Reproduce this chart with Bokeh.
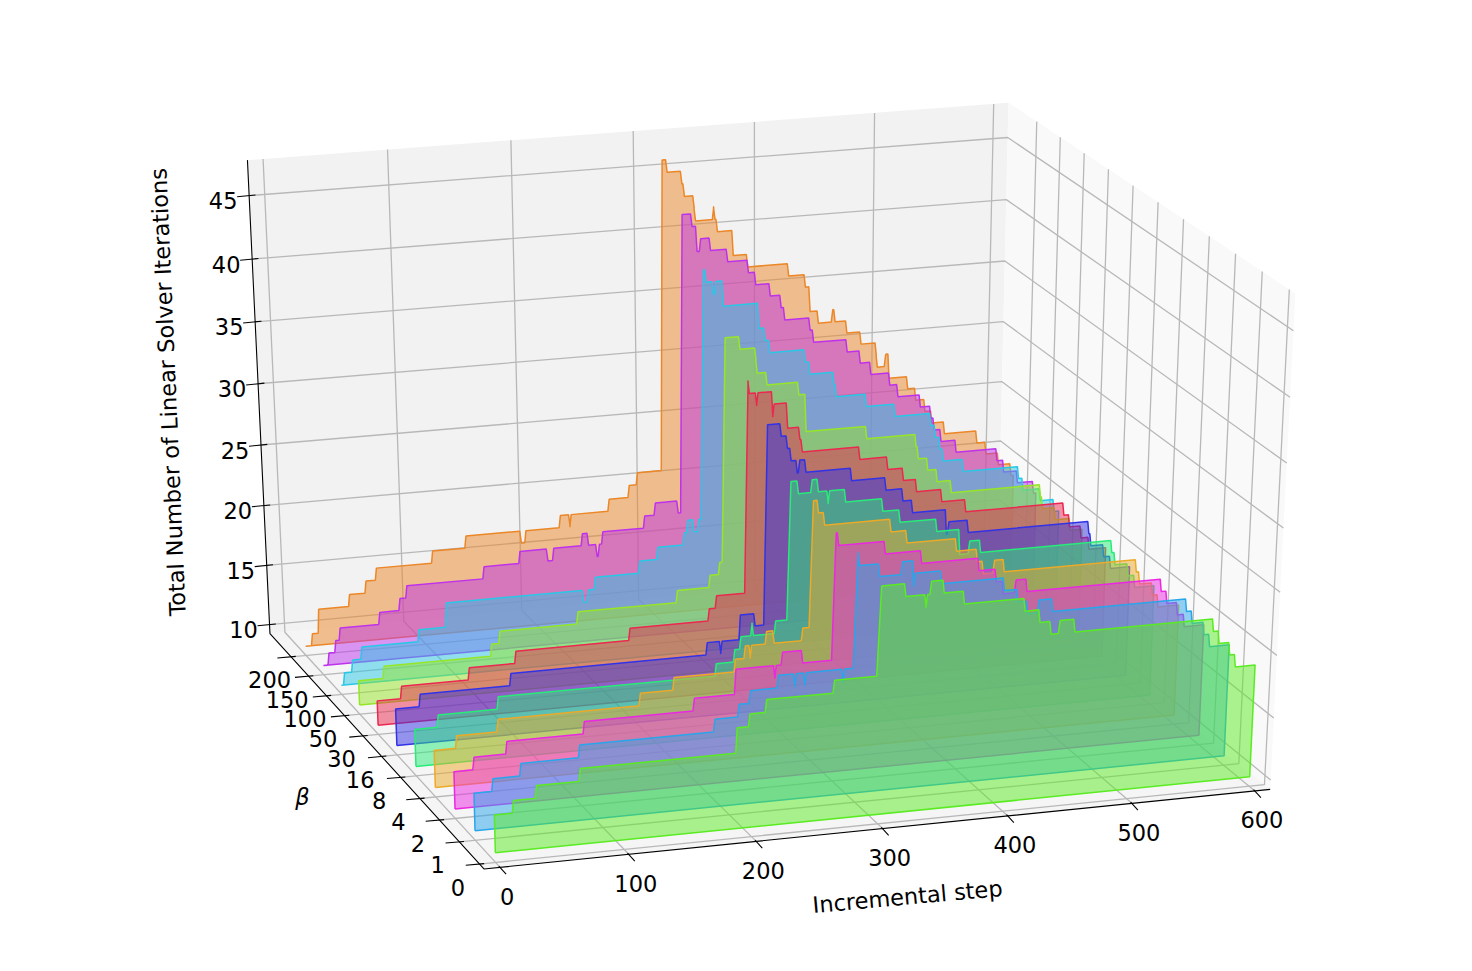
import numpy as np
from bokeh.plotting import figure
from bokeh.embed import file_html
from bokeh.resources import INLINE
from bokeh.models import Range1d
from bokeh.core.properties import value

beta_labels = ["0","1","2","4","8","16","30","50","100","150","200"]
step_ticks = [0,100,200,300,400,500,600]
iter_ticks = [10,15,20,25,30,35,40,45]
colors = ["#5aeb23","#28a5eb","#eb28e1","#ebaa28","#28eb78","#3232e6","#eb2850","#96e628","#28c8e6","#be32eb","#eb8728"]

S0=[0,15,33,67,189,199,212,265,301,320,336,337,340,350,366,414,426,435,442,454,565,570,579,584,600]
L0=[13,14,15,16,18,19,20,21,28,27,26,27,28,27,26,25,24,23,24,23,22,21,20,19,19]
S1=[0,15,37,83,189,208,217,239,252,253,260,261,290,291,301,302,318,336,345,346,367,417,428,436,445,456,564,569,579,584,600]
L1=[13,14,15,16,17,18,19,20,19,20,19,20,19,20,29,28,27,28,26,27,26,25,24,23,24,23,22,21,20,19,19]
S2=[0,16,42,103,190,223,254,255,260,276,302,304,341,370,416,430,436,446,455,564,569,578,584,600]
L2=[13,14,15,16,17,19,18,19,20,19,29,28,27,26,25,24,23,24,23,22,21,20,19,19]
S3=[0,18,51,164,191,240,248,252,253,265,271,294,302,306,311,364,377,417,434,439,448,456,564,567,578,583,600]
L3=[13,14,15,16,17,18,19,18,19,20,19,20,30,29,28,27,26,25,24,23,24,23,22,21,20,19,19]
S4=[0,19,67,242,257,262,271,272,290,302,308,319,324,332,333,346,376,390,420,439,447,456,564,567,578,584,600]
L4=[13,14,15,16,17,18,19,18,19,30,29,30,29,28,29,28,27,26,25,23,24,23,22,21,20,19,19]
S5=[0,20,93,252,263,264,279,291,301,312,317,320,325,327,332,369,397,411,419,447,449,465,565,567,578,584,600]
L5=[13,14,15,16,15,16,18,17,33,32,31,30,29,30,29,28,27,26,25,23,24,23,22,21,20,19,19]
S6=[0,20,75,113,206,271,277,303,304,310,311,323,324,335,345,347,394,417,430,441,462,482,564,569,579,586,600]
L6=[12,13,14,15,16,17,18,35,34,33,34,32,33,31,30,29,28,27,26,25,24,23,22,21,20,19,19]
S7=[0,21,109,116,180,262,289,297,302,314,327,328,336,362,368,418,459,461,469,477,489,564,566,577,590,600]
L7=[12,13,14,15,16,17,18,19,37,36,35,34,33,32,29,28,27,26,25,24,23,22,21,20,19,19]
S8=[0,3,10,18,65,88,201,205,211,248,263,285,288,293,297,302,304,310,312,318,347,352,356,385,389,409,411,436,460,490,494,498,501,518,565,569,584,596,600]
L8=[10,11,12,13,14,16,15,16,17,18,19,20,21,20,21,41,40,39,40,38,36,35,34,33,32,31,30,29,28,27,26,25,24,23,22,21,20,19,19]
S9=[0,5,11,15,48,65,71,135,165,188,193,217,222,229,231,234,269,278,297,302,310,314,317,325,339,356,362,374,383,386,407,410,438,449,458,474,481,500,509,512,518,531,566,572,584,598,600]
L9=[10,11,12,13,14,15,16,17,18,17,18,19,18,17,18,19,20,21,20,44,43,41,42,41,40,39,38,37,36,35,34,33,32,31,30,29,28,27,26,25,24,23,22,21,20,19,19]
S10=[0,6,12,38,52,61,108,136,182,186,215,223,224,256,273,280,303,307,319,321,329,330,345,346,348,361,373,407,421,425,432,444,446,456,468,481,482,489,492,508,515,523,529,540,568,576,587,598,600]
L10=[10,11,13,14,15,16,17,18,17,18,19,18,19,20,21,22,47,46,45,44,43,42,43,42,41,39,38,37,36,34,33,34,33,32,31,30,29,30,28,27,26,25,24,23,22,21,20,19,19]
steps=[S0,S1,S2,S3,S4,S5,S6,S7,S8,S9,S10]
iters=[L0,L1,L2,L3,L4,L5,L6,L7,L8,L9,L10]

umin,umax=-12.5,612.5; vmin,vmax=-.22,11.22; wmin,wmax=9.23,47.77
M=np.array([[779.251,-163.3037,-37.325,498.0771],[-53.8068,-153.184,-536.7472,975.9787],[0.0274,0.0786,-0.0493,1.0]])
def proj(u,v,w):
    h=M@np.array([u/600,v/10,w/40,1.0])
    return float(h[0]/h[2]),float(h[1]/h[2])

p=figure(width=1456,height=955,x_range=Range1d(0,1456),y_range=Range1d(955,0),toolbar_location=None,output_backend="svg",min_border=0,outline_line_color=None,background_fill_color="white",border_fill_color="white")
p.xaxis.visible=False;p.yaxis.visible=False;p.grid.visible=False

def quad(pts,col):
    x,y=zip(*[proj(*q) for q in pts]); p.patch(list(x),list(y),fill_color=col,line_color=None)
def pl(pts,col,w):
    x,y=zip(*[proj(*q) for q in pts]); p.line(list(x),list(y),line_color=col,line_width=w)

quad([(umin,vmax,wmin),(umin,vmax,wmax),(umax,vmax,wmax),(umax,vmax,wmin)],"#f2f2f2")
quad([(umax,vmax,wmin),(umax,vmax,wmax),(umax,vmin,wmax),(umax,vmin,wmin)],"#f9f9f9")
quad([(umin,vmin,wmin),(umin,vmax,wmin),(umax,vmax,wmin),(umax,vmin,wmin)],"#f5f5f5")
GRID="#b8b8b8"
for u in step_ticks: pl([(u,vmin,wmin),(u,vmax,wmin),(u,vmax,wmax)],GRID,1.3)
for v in range(len(beta_labels)): pl([(umin,v,wmin),(umax,v,wmin),(umax,v,wmax)],GRID,1.3)
for w in iter_ticks: pl([(umin,vmax,w),(umax,vmax,w),(umax,vmin,w)],GRID,1.3)

for k in range(10,-1,-1):
    S,L=steps[k],iters[k]
    pts=[(S[0],k,10)]
    for i,(s,l) in enumerate(zip(S,L)):
        if i>0 and l!=L[i-1]:
            r=3 if abs(l-L[i-1])>4 else 1.2
            pts.append((s-r,k,L[i-1]))
        pts.append((s,k,l))
    pts.append((S[-1],k,10)); pts.append(pts[0])
    x,y=zip(*[proj(*q) for q in pts]); x=list(x); y=list(y)
    p.patch(x,y,fill_color=colors[k],fill_alpha=.5,line_color=None)
    p.line(x,y,line_color=colors[k],line_width=1.5)

pl([(umin,vmax,wmax),(umin,vmax,wmin),(umin,vmin,wmin),(umax,vmin,wmin)],"black",1.1)

def tick(pos,inner,outer):
    x,y=proj(*pos)
    p.line([x+inner[0],x+outer[0]],[y+inner[1],y+outer[1]],line_color="black",line_width=1.1)
    return x,y
TF=value("DejaVu Sans"); FS="22.5px"
def label(x,y,t,**kw):
    p.text([x],[y],text=[t],text_font=TF,text_font_size=FS,text_align="center",text_baseline="middle",text_color="#000000",**kw)
for u in step_ticks:
    x,y=tick((u,vmin,wmin),(-1.3,-1.3),(6,6.7)); label(x+7,y+29,str(u))
for v,t in enumerate(beta_labels):
    x,y=tick((umin,v,wmin),(4.7,-.4),(-13.7,1.2)); label(x-21.5,y+23,t)
for w in iter_ticks:
    x,y=tick((umin,vmax,w),(6.3,-.6),(-12,1.2)); label(x-26,y+5,str(w))
label(167.5,391.5,"Total Number of Linear Solver Iterations",angle=1.614)
label(907,896,"Incremental step",angle=0.09)
label(302,796,"β",text_font_style="italic")
open("out.html","w").write(file_html(p,INLINE))
